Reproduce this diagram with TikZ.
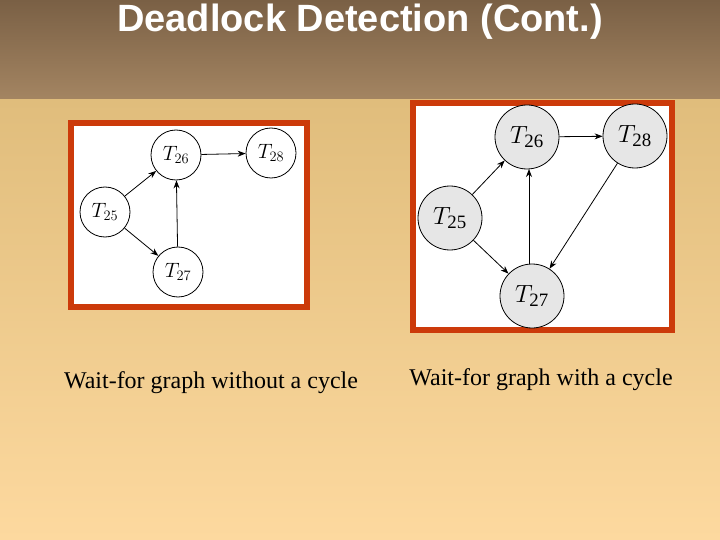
\documentclass[tikz,border=0pt]{standalone}
\usepackage{fontspec}
\setmainfont{Liberation Serif}
\newfontfamily\titlefont{Liberation Sans}
\usetikzlibrary{arrows.meta}
\definecolor{frameorange}{HTML}{CC3A0A}
\definecolor{topA}{HTML}{7A6045}
\definecolor{topB}{HTML}{A48562}
\definecolor{bgA}{HTML}{E0BD7C}
\definecolor{bgB}{HTML}{FDD99F}
\definecolor{nodegray}{HTML}{E6E6E6}
\begin{document}
\begin{tikzpicture}[x=1pt,y=-1pt,
  lnode/.style={draw,circle,fill=white,minimum size=50pt,inner sep=0pt,font=\fontsize{20}{24}\selectfont,line width=0.8pt},
  rnode/.style={draw,circle,fill=nodegray,minimum size=64pt,inner sep=0pt,font=\fontsize{27}{32}\selectfont,line width=0.8pt},
  edge/.style={-{Stealth[length=8pt,width=6pt]},line width=0.8pt},
  framebox/.style={draw=frameorange,line width=6pt,fill=white}]
\useasboundingbox (0,0) rectangle (720,540);
\shade[top color=topA,bottom color=topB] (0,0) rectangle (720,100);
\shade[top color=bgA,bottom color=bgB] (0,100) rectangle (720,540);
\node[font=\titlefont\bfseries\fontsize{38}{44}\selectfont,text=white] (title) at (360,22) {Deadlock Detection (Cont.)};
% left
\draw[framebox] (71,123) rectangle (307,307);
\node[lnode] (a26) at (176,155) {$T_{26}$};
\node[lnode] (a28) at (271,153) {$T_{28}$};
\node[lnode] (a25) at (105,212) {$T_{25}$};
\node[lnode] (a27) at (178,272) {$T_{27}$};
\draw[edge] (a25) -- (a26);
\draw[edge] (a25) -- (a27);
\draw[edge] (a26) -- (a28);
\draw[edge] (a27) -- (a26);
% right
\draw[framebox] (413,103) rectangle (672,330);
\node[rnode] (b26) at (527,137) {$T_{\mathrm{26}}$};
\node[rnode] (b28) at (635,136) {$T_{\mathrm{28}}$};
\node[rnode] (b25) at (450,218) {$T_{\mathrm{25}}$};
\node[rnode] (b27) at (532,296) {$T_{\mathrm{27}}$};
\draw[edge] (b25) -- (b26);
\draw[edge] (b25) -- (b27);
\draw[edge] (b26) -- (b28);
\draw[edge] (b28) -- (b27);
\draw[edge] (b27.north -| 529,0) -- (529,169);
% captions
\node[font=\fontsize{24}{28}\selectfont] (c1) at (211,383) {Wait-for graph without a cycle};
\node[font=\fontsize{24}{28}\selectfont] (c2) at (541,380) {Wait-for graph with a cycle};
\end{tikzpicture}
\end{document}
